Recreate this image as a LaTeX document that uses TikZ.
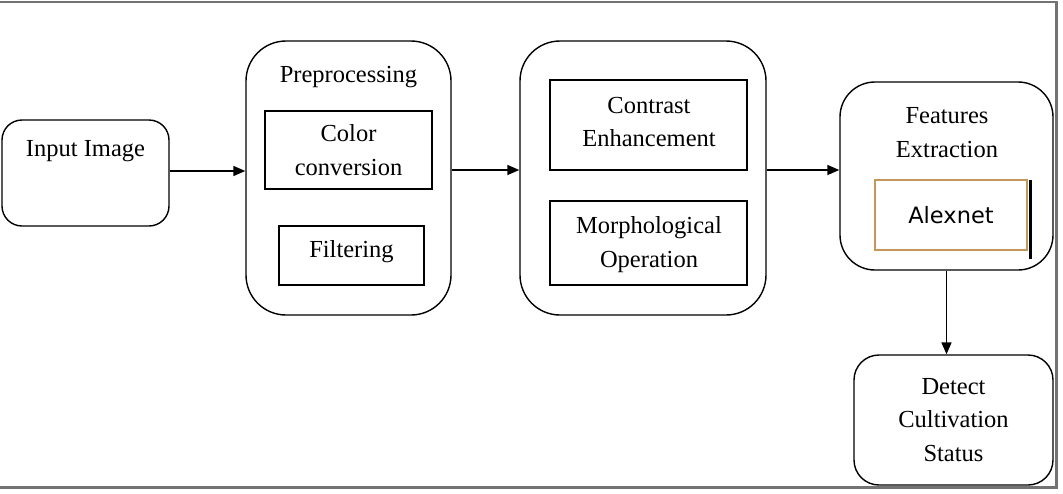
\documentclass[tikz,border=0pt]{standalone}
\usepackage{fontspec}
\setmainfont{Liberation Serif}
\newfontfamily\alexfont{DejaVu Sans}
\usetikzlibrary{arrows.meta}
\definecolor{framegray}{gray}{0.45}
\definecolor{alexbrown}{RGB}{196,152,90}
\begin{document}
\begin{tikzpicture}[x=1pt,y=-1pt,
  box/.style={draw=black, line width=1.4pt, inner sep=0pt, align=center,
    font=\fontsize{24.5}{33.5}\selectfont},
  txt/.style={inner sep=0pt, align=center, font=\fontsize{24.5}{33.5}\selectfont},
  arr/.style={line width=1.6pt, -{Triangle[length=12pt,width=10pt]}}]
\useasboundingbox (0,0) rectangle (1063,493);
% outer frame
\draw[framegray, line width=2.5pt] (-5,2) -- (1056.5,2) -- (1056.5,487.5) -- (-5,487.5);
% boxes
\node[box, rounded corners=20pt, minimum width=167pt, minimum height=106pt] (input) at (85.5,173) {};
\node[txt, anchor=base] (inputtxt) at (85.5,156) {Input Image};
\node[box, rounded corners=40pt, minimum width=205pt, minimum height=274pt] (pre) at (348.5,178) {};
\node[txt, anchor=base] (pretxt) at (348.5,82) {Preprocessing};
\node[box, minimum width=167pt, minimum height=78pt] (color) at (348.5,150) {Color\\conversion};
\node[box, minimum width=145pt, minimum height=59pt] (filter) at (351.5,255.5) {};
\node[txt, anchor=base] (filtertxt) at (351.5,257) {Filtering};
\node[box, rounded corners=40pt, minimum width=246pt, minimum height=274pt] (sec) at (643,178) {};
\node[box, minimum width=197pt, minimum height=90pt] (contrast) at (648.5,125) {};
\node[txt] (contrasttxt) at (649,122) {Contrast\\Enhancement};
\node[box, minimum width=197pt, minimum height=84pt] (morph) at (648.5,243) {};
\node[txt] (morphtxt) at (649,244.5) {Morphological\\Operation};
\node[box, rounded corners=35pt, minimum width=213pt, minimum height=188pt] (feat) at (946.5,176) {};
\node[txt] (feattxt) at (947,132.5) {Features\\Extraction};
\node[box, draw=alexbrown, line width=2.2pt, minimum width=152pt, minimum height=70pt,
  font=\alexfont\fontsize{22.5}{27}\selectfont] (alex) at (951,215) {Alexnet};
\draw[line width=2.4pt] ([xshift=2.4pt,yshift=-1pt]alex.north east) -- ([xshift=2.4pt,yshift=-8pt]alex.south east);
\node[box, rounded corners=25pt, minimum width=199pt, minimum height=130pt] (detect) at (953.5,420) {Detect\\Cultivation\\Status};
% arrows
\draw[arr] ([yshift=2pt]input.east) -- ([yshift=2pt]input.east -| pre.west);
\draw[arr] ([yshift=8pt]pre.east) -- ([yshift=8pt]pre.east -| sec.west);
\draw[arr] ([yshift=8pt]sec.east) -- ([yshift=8pt]sec.east -| feat.west);
\draw[arr] (feat.south) -- (feat.south |- detect.north);
\end{tikzpicture}
\end{document}
